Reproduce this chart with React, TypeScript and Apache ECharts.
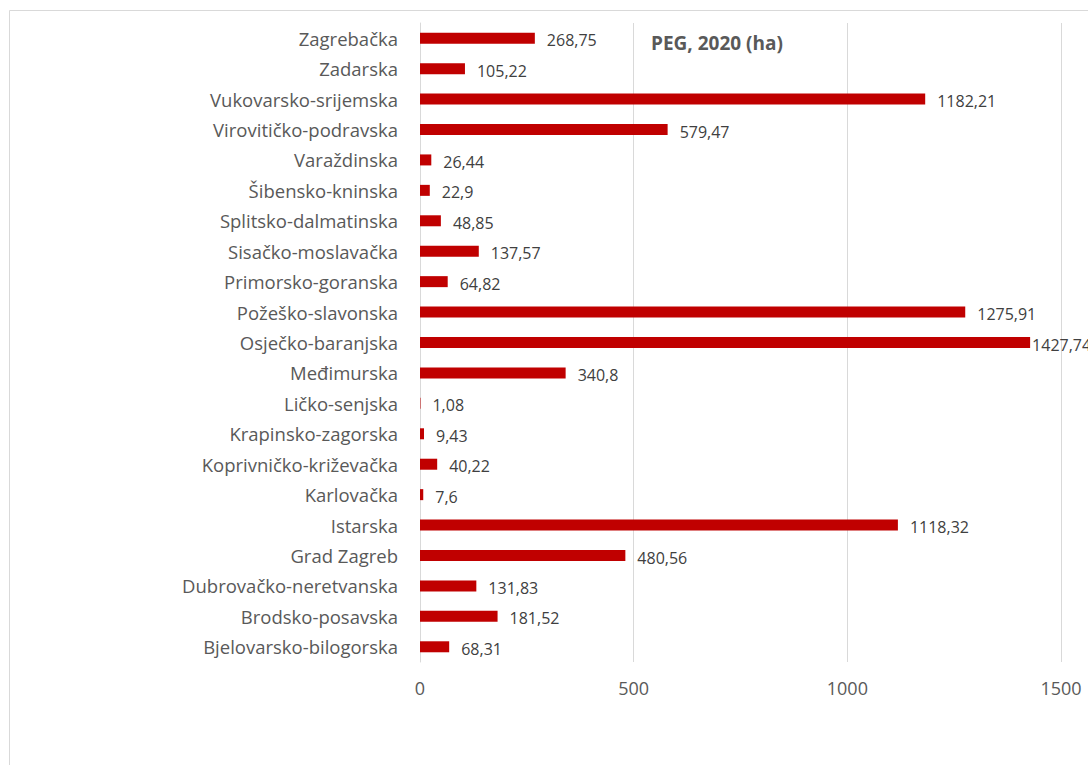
import React, { useEffect, useRef } from "react";
import * as echarts from "echarts";

const categories = [
  "Bjelovarsko-bilogorska",
  "Brodsko-posavska",
  "Dubrovačko-neretvanska",
  "Grad Zagreb",
  "Istarska",
  "Karlovačka",
  "Koprivničko-križevačka",
  "Krapinsko-zagorska",
  "Ličko-senjska",
  "Međimurska",
  "Osječko-baranjska",
  "Požeško-slavonska",
  "Primorsko-goranska",
  "Sisačko-moslavačka",
  "Splitsko-dalmatinska",
  "Šibensko-kninska",
  "Varaždinska",
  "Virovitičko-podravska",
  "Vukovarsko-srijemska",
  "Zadarska",
  "Zagrebačka",
];

const values = [
  68.31, 181.52, 131.83, 480.56, 1118.32, 7.6, 40.22, 9.43, 1.08, 340.8,
  1427.74, 1275.91, 64.82, 137.57, 48.85, 22.9, 26.44, 579.47, 1182.21,
  105.22, 268.75,
];

const titleText = "PEG, 2020 (ha)";
const axisMin = 0;
const axisMax = 1500;
const axisInterval = 500;

const FONT = "'Open Sans', 'Noto Sans', sans-serif";

export default function App() {
  const ref = useRef<HTMLDivElement>(null);

  useEffect(() => {
    if (!ref.current) return;
    const chart = echarts.init(ref.current, undefined, { renderer: "svg" });
    const seriesData = values.map((v) =>
      v > 1400 ? { value: v, label: { distance: 2 } } : v
    );
    chart.setOption({
      animation: false,
      backgroundColor: "#ffffff",
      title: {
        text: titleText,
        left: 646,
        top: 28,
        textStyle: {
          fontFamily: FONT,
          fontSize: 19,
          fontWeight: "bold",
          color: "#595959",
        },
      },
      graphic: [
        {
          type: "rect",
          shape: { x: 9.5, y: 10.5, width: 1200, height: 900 },
          style: { fill: "none", stroke: "#d9d9d9", lineWidth: 1 },
          silent: true,
          z: -1,
        },
      ],
      grid: {
        left: 420,
        right: 27,
        top: 23,
        height: 639,
        containLabel: false,
      },
      xAxis: {
        type: "value",
        min: axisMin,
        max: axisMax,
        interval: axisInterval,
        axisLine: { show: false },
        axisTick: { show: false },
        splitLine: { show: true, lineStyle: { color: "#d9d9d9", width: 1 } },
        axisLabel: {
          fontFamily: FONT,
          fontSize: 18,
          color: "#595959",
          margin: 17,
          formatter: (v: number) => String(v),
        },
      },
      yAxis: {
        type: "category",
        data: categories,
        axisLine: { show: true, lineStyle: { color: "#d9d9d9" } },
        axisTick: { show: false },
        axisLabel: {
          fontFamily: FONT,
          fontSize: 18.5,
          color: "#595959",
          margin: 22,
        },
      },
      series: [
        {
          type: "bar",
          data: seriesData,
          barWidth: 11,
          itemStyle: { color: "#C00000" },
          label: {
            show: true,
            position: "right",
            distance: 12,
            offset: [0, 2],
            fontFamily: FONT,
            fontSize: 16,
            color: "#404040",
            formatter: (p: any) => String(p.value).replace(".", ","),
          },
        },
      ],
    });
    return () => chart.dispose();
  }, []);

  return (
    <div
      ref={ref}
      style={{ position: "fixed", left: 0, top: 0, width: 1088, height: 765 }}
    />
  );
}
